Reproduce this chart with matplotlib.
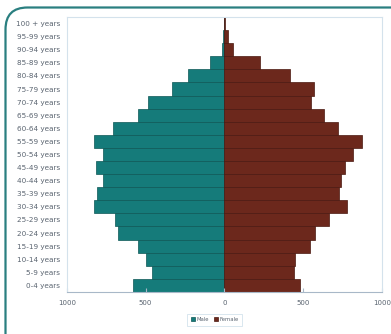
import matplotlib.pyplot as plt
from matplotlib.patches import PathPatch
from matplotlib.path import Path

# Age groups, youngest first
age_groups = ['0-4 years', '5-9 years', '10-14 years', '15-19 years', '20-24 years',
              '25-29 years', '30-34 years', '35-39 years', '40-44 years', '45-49 years',
              '50-54 years', '55-59 years', '60-64 years', '65-69 years', '70-74 years',
              '75-79 years', '80-84 years', '85-89 years', '90-94 years', '95-99 years',
              '100 + years']
males = [582, 460, 497, 546, 673, 694, 826, 811, 768, 815,
         768, 826, 705, 550, 482, 333, 231, 89, 15, 8, 2]
females = [482, 439, 450, 545, 577, 662, 779, 730, 737, 764,
           815, 875, 720, 631, 552, 567, 414, 227, 57, 21, 4]
x_ticks = [-1000, -500, 0, 500, 1000]
x_tick_labels = ['1000', '500', '0', '500', '1000']

teal = '#157b7a'
brown = '#6c281c'
text_col = '#5a6470'

fig = plt.figure(figsize=(3.91, 3.34), dpi=100)
ax = fig.add_axes([0.171, 0.126, 0.806, 0.823])

pos = range(len(age_groups))
ax.barh(pos, [-m for m in males], height=1.0, color=teal,
        edgecolor='#0d5756', linewidth=0.5, label='Male')
ax.barh(pos, females, height=1.0, color=brown,
        edgecolor='#4a1810', linewidth=0.5, label='Female')
ax.axvline(0, color='#8a9aa8', linewidth=0.6, zorder=0)

ax.set_xlim(-1000, 1000)
ax.set_ylim(-0.5, len(age_groups) - 0.5)
ax.set_yticks(list(pos))
ax.set_yticklabels(age_groups, fontsize=5.2, color=text_col)
ax.set_xticks(x_ticks)
ax.set_xticklabels(x_tick_labels, fontsize=5.0, color=text_col)
ax.tick_params(axis='y', length=0, pad=5)
ax.tick_params(axis='x', length=3, direction='in', color='#a8b8c8', pad=6)

for side in ['top', 'right', 'left']:
    ax.spines[side].set_color('#d4e2ec')
    ax.spines[side].set_linewidth(0.8)
ax.spines['bottom'].set_color('#a8b8c8')
ax.spines['bottom'].set_linewidth(0.8)

leg = ax.legend(loc='upper center', bbox_to_anchor=(0.47, -0.075), ncol=2,
                fontsize=3.8, frameon=True, handlelength=0.8, handleheight=0.8,
                columnspacing=0.8, handletextpad=0.3, borderpad=0.4)
leg.get_frame().set_edgecolor('#c8dce8')
leg.get_frame().set_linewidth(0.6)
leg.get_frame().set_boxstyle('square')
for t in leg.get_texts():
    t.set_color(text_col)

# rounded teal frame along the left and top edges
w, h = 391.0, 334.0
x0, y0, r = 5.5 / w, 1 - 7.5 / h, 22.0
verts = [(x0, 0.0), (x0, y0 - r / h), (x0, y0), (x0 + r / w, y0), (1.0, y0)]
codes = [Path.MOVETO, Path.LINETO, Path.CURVE3, Path.CURVE3, Path.LINETO]
frame = PathPatch(Path(verts, codes), transform=fig.transFigure, fill=False,
                  edgecolor='#2a7f80', linewidth=1.6)
fig.patches.append(frame)

fig.savefig('out.png', dpi=100)
